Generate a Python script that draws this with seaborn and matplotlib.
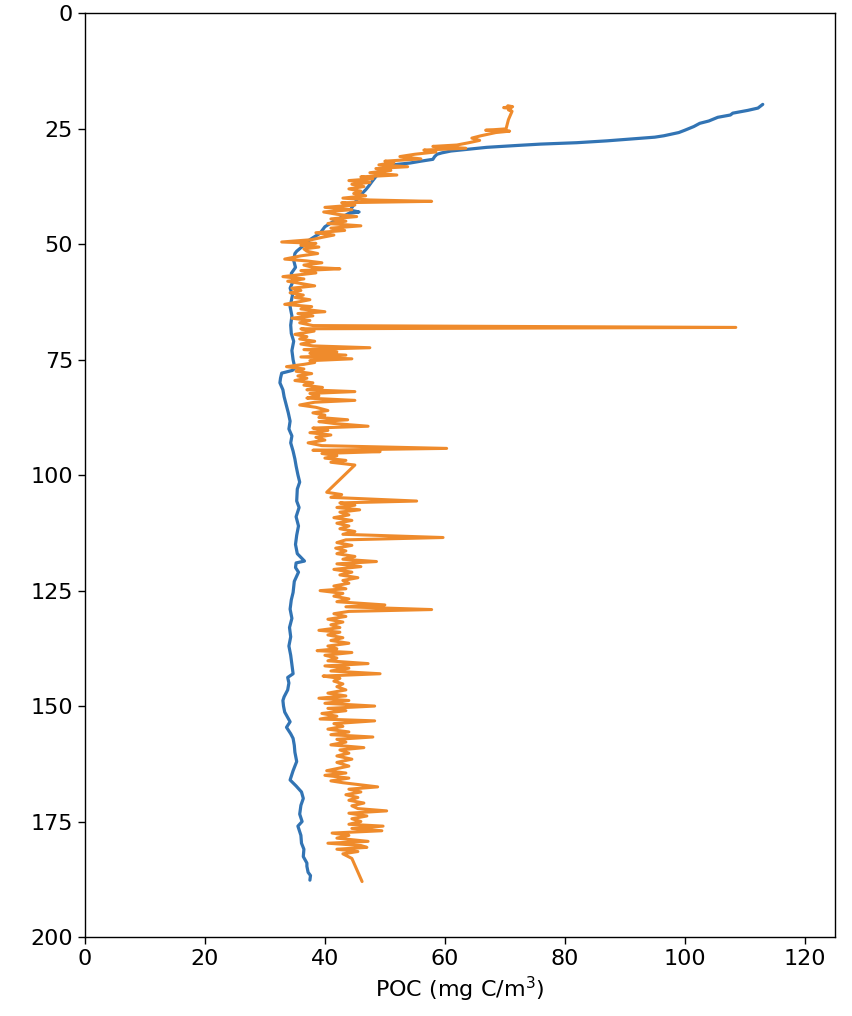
import numpy as np
import pandas as pd
import matplotlib
matplotlib.use("Agg")
import matplotlib.pyplot as plt
import seaborn as sns

# ---- data ----
blue_depth = [19.7, 20.5, 21.0, 21.6, 22.0, 22.5, 23.3, 23.8, 24.5, 25.3, 25.8, 26.5, 26.8, 27.2, 27.6,
              28.0, 28.3, 28.6, 29.0, 29.4, 29.8, 30.2, 30.5, 31.0, 31.6, 32.0, 32.4, 32.7, 33.0, 33.8,
              34.5, 35.5, 36.5, 37.4, 38.2, 39.0, 39.7, 40.4, 41.5, 42.6, 43.0, 43.3, 44.0, 45.0, 46.2,
              47.6, 49.0, 50.2, 51.5, 52.0, 53.5, 55.0, 56.3, 58.0, 59.5, 61.0, 63.5, 65.5, 67.5, 69.3,
              71.0, 73.0, 75.0, 76.8, 77.3, 77.9, 79.0, 80.0, 81.5, 83.0, 85.0, 86.5, 88.3, 90.0, 91.5,
              93.0, 94.8, 96.5, 98.0, 99.9, 101.5, 103.0, 105.6, 107.0, 109.0, 111.0, 113.0, 115.0, 117.0,
              118.6, 119.0, 120.0, 121.0, 123.0, 125.4, 127.0, 129.0, 131.0, 133.0, 135.0, 137.0, 139.0,
              141.0, 143.0, 143.8, 145.0, 146.5, 148.0, 148.8, 150.0, 151.3, 152.0, 153.4, 154.6, 156.0,
              157.0, 158.5, 160.0, 162.0, 164.0, 166.0, 167.3, 168.6, 170.0, 171.5, 173.4, 175.0, 176.0,
              178.0, 179.7, 181.0, 182.6, 184.0, 184.7, 186.0, 186.7, 187.7]
blue_poc = [113.0, 112.2, 110.5, 108.0, 107.6, 105.5, 104.0, 102.5, 101.5, 100.0, 99.0, 96.5, 95.0, 91.0, 87.0,
            82.0, 76.0, 72.0, 67.0, 64.0, 61.0, 59.5, 58.7, 58.3, 58.0, 56.0, 54.2, 52.0, 50.3, 49.6,
            49.0, 48.4, 47.8, 47.3, 46.8, 46.2, 45.8, 45.3, 44.8, 44.2, 45.7, 44.0, 43.0, 41.5, 40.0,
            39.2, 37.5, 36.5, 35.3, 35.0, 34.8, 35.1, 34.4, 34.7, 34.2, 34.6, 34.2, 34.5, 34.3, 34.4,
            34.8, 34.5, 34.7, 35.0, 34.6, 32.8, 32.6, 32.5, 33.0, 33.2, 33.6, 33.9, 34.2, 34.0, 34.5,
            34.3, 34.7, 35.0, 35.2, 35.5, 35.8, 35.4, 35.3, 35.7, 35.2, 35.6, 35.3, 35.1, 35.4,
            36.6, 35.2, 35.1, 35.6, 34.9, 34.7, 34.4, 34.2, 34.5, 34.1, 34.3, 34.0, 34.3,
            34.5, 34.7, 33.8, 34.0, 33.8, 33.2, 33.0, 33.1, 33.3, 33.6, 34.2, 33.6, 34.3,
            34.7, 34.9, 35.0, 35.3, 34.7, 34.2, 35.2, 36.1, 36.4, 36.0, 35.8, 36.2, 35.5,
            36.0, 36.1, 36.5, 36.4, 37.0, 37.0, 37.2, 37.6, 37.5]

orange_depth = [20.0, 20.2, 20.4, 20.6, 20.9, 21.2, 23.0, 25.0, 25.3, 25.5, 25.8, 26.5, 27.0, 27.5, 28.0,
                28.5, 28.8, 29.2, 29.6, 30.0, 30.5, 31.0, 31.5, 32.0, 32.3, 32.8, 33.2, 33.6, 34.0, 34.5,
                35.0, 35.4, 35.8, 36.2, 36.6, 37.0, 37.5, 38.0, 38.5, 39.0, 39.5, 40.0, 40.4, 40.7, 41.0,
                41.5, 42.0, 42.5, 43.0, 43.5, 44.0, 44.5, 45.0, 45.5, 46.0, 46.5, 47.0, 47.5, 48.0, 48.5,
                49.0, 49.5, 49.8, 50.2, 50.6, 51.0, 51.5, 52.0, 52.5, 53.2, 53.6, 54.0, 54.5, 55.0, 55.3,
                55.7, 56.2, 57.0, 57.5, 58.0, 58.5, 59.0, 59.5, 60.0, 60.5, 61.0, 61.5, 62.0, 62.5, 63.0,
                63.5, 64.0, 64.6, 65.0, 65.5, 66.0, 66.5, 67.0, 67.6, 68.0, 68.3, 68.8, 69.5, 70.0, 70.5,
                71.0, 71.6, 72.0, 72.4, 72.8, 73.3, 73.6, 74.0, 74.4, 74.8, 75.2, 75.6, 76.0, 76.5, 77.0,
                77.5, 78.0, 78.5, 79.0, 79.5, 80.0, 80.5, 81.0, 81.5, 81.9, 82.3, 82.8, 83.3, 83.8, 84.2,
                84.8, 85.3, 86.0, 86.5, 87.0, 87.5, 88.0, 88.4, 88.8, 89.4, 89.8, 90.3, 90.8, 91.3, 91.8,
                92.4, 93.0, 93.6, 94.2, 94.6, 94.9, 95.3, 95.8, 96.3, 96.8, 97.2, 97.8, 103.7, 104.2, 104.8,
                105.6, 106.0, 106.5, 107.0, 107.5, 108.0, 108.6, 109.2, 109.8, 110.4, 111.0, 111.6, 112.2,
                112.8, 113.5, 114.0, 114.6, 115.2, 115.8, 116.4, 117.0, 117.6, 118.2, 118.7, 119.2, 119.8,
                120.4, 121.0, 121.6, 122.2, 122.8, 123.4, 124.0, 124.6, 125.0, 125.6, 126.2, 126.8, 127.4,
                128.1, 128.5, 129.1, 129.5, 130.0, 130.6, 131.2, 131.8, 132.4, 133.0, 133.6, 134.0, 134.6,
                135.2, 135.8, 136.4, 137.0, 137.6, 138.0, 138.4, 139.0, 139.6, 140.2, 140.8, 141.3, 141.8,
                142.4, 143.0, 143.5, 144.0, 144.6, 145.2, 145.8, 146.5, 147.2, 147.8, 148.3, 148.8, 149.4,
                150.0, 150.5, 151.0, 151.6, 152.2, 152.8, 153.2, 153.8, 154.4, 155.0, 155.6, 156.2, 156.7,
                157.2, 157.8, 158.4, 159.0, 159.5, 160.2, 160.8, 161.5, 162.2, 163.0, 164.0, 164.5, 165.0,
                165.6, 166.2, 166.6, 167.5, 168.0, 168.6, 169.2, 169.8, 170.4, 171.0, 171.6, 172.2, 172.7,
                173.2, 173.8, 174.4, 175.0, 175.6, 176.0, 176.5, 177.0, 177.5, 178.0, 178.6, 179.0, 179.3,
                179.7, 180.2, 180.6, 181.0, 181.5, 182.0, 183.0, 188.0]
orange_poc = [70.5, 71.3, 69.8, 71.0, 70.6, 71.2, 70.6, 70.2, 66.8, 70.8, 68.5, 66.0, 64.5, 65.8, 64.0,
              62.0, 58.0, 63.5, 56.5, 58.5, 55.0, 52.5, 56.0, 50.0, 51.5, 49.0, 53.8, 48.5, 51.0, 47.5,
              52.0, 46.0, 48.0, 44.0, 47.5, 44.5, 46.5, 44.0, 46.0, 44.8, 46.8, 43.0, 47.5, 57.8, 42.8,
              45.0, 40.0, 44.5, 39.8, 42.0, 45.3, 41.0, 43.5, 40.5, 46.0, 41.0, 43.3, 38.5, 41.5, 39.5,
              37.8, 32.8, 38.5, 36.0, 39.0, 36.5, 37.0, 38.8, 36.0, 33.3, 37.0, 39.5, 36.5, 38.0, 42.5,
              36.0, 38.5, 33.0, 36.5, 33.8, 36.0, 38.3, 34.5, 36.0, 34.2, 36.4, 35.0, 37.5, 35.5, 33.3,
              37.8, 36.0, 40.0, 35.5, 38.0, 34.5, 37.5, 35.8, 38.0, 108.5, 36.0, 38.2, 35.0, 37.0, 35.8,
              38.3, 36.0, 38.0, 47.5, 36.5, 42.0, 37.5, 43.5, 36.0, 44.5, 37.5, 38.3, 36.5, 33.6, 36.5,
              35.2, 37.8, 35.5, 37.0, 35.0, 38.0, 36.5, 39.6, 37.0, 45.0, 37.5, 39.0, 37.0, 45.0, 38.3,
              35.8, 38.5, 40.5, 38.0, 40.0, 39.0, 43.8, 39.0, 41.5, 47.2, 38.0, 40.5, 37.5, 41.0, 38.5,
              40.0, 37.2, 39.5, 60.3, 38.0, 49.2, 39.5, 42.0, 40.0, 43.5, 41.0, 45.0, 40.3, 42.8, 41.0,
              55.3, 42.5, 45.0, 42.0, 45.8, 42.5, 44.0, 41.5, 44.5, 42.0, 44.0, 42.5, 45.0,
              43.0, 59.7, 43.5, 42.0, 44.5, 41.8, 43.5, 42.0, 45.0, 43.0, 48.6, 42.0, 46.0,
              41.5, 44.5, 42.5, 45.5, 43.0, 44.0, 41.5, 43.5, 39.2, 43.0, 41.5, 44.0, 42.0,
              50.0, 43.5, 57.8, 44.0, 41.5, 43.5, 40.5, 43.0, 41.0, 42.5, 39.0, 42.5, 40.5,
              43.0, 41.0, 44.0, 40.5, 42.0, 38.7, 44.5, 40.0, 42.0, 40.5, 47.2, 40.0, 44.0,
              41.0, 49.2, 39.7, 42.5, 41.5, 43.0, 42.0, 43.5, 40.5, 43.5, 39.0, 44.0, 40.0,
              48.3, 40.5, 43.5, 39.5, 42.0, 39.2, 48.3, 41.5, 43.0, 40.5, 44.0, 41.0, 48.0,
              42.0, 43.5, 41.0, 46.5, 42.5, 44.0, 42.0, 44.5, 42.0, 44.0, 40.3, 43.5, 40.0,
              44.0, 41.0, 43.0, 48.8, 44.0, 46.0, 43.5, 45.5, 44.0, 46.5, 44.5, 45.5, 50.3,
              44.0, 47.0, 44.5, 46.0, 44.0, 49.7, 44.5, 49.5, 41.2, 44.0, 42.0, 45.0, 47.2,
              40.5, 46.0, 47.0, 42.0, 45.5, 43.0, 44.5, 46.2]

x_ticks = [0, 20, 40, 60, 80, 100, 120]
y_ticks = [0, 25, 50, 75, 100, 125, 150, 175, 200]

blue_df = pd.DataFrame({"poc": blue_poc, "depth": blue_depth})
orange_df = pd.DataFrame({"poc": orange_poc, "depth": orange_depth})

sns.set_style("ticks")
plt.rcParams["font.family"] = ["DejaVu Sans"]
plt.rcParams["text.color"] = "black"
plt.rcParams["axes.labelcolor"] = "black"
plt.rcParams["xtick.color"] = "black"
plt.rcParams["ytick.color"] = "black"
plt.rcParams["axes.edgecolor"] = "black"

fig = plt.figure(figsize=(8.53, 10.16), dpi=100)
ax = fig.add_axes([0.0996, 0.0778, 0.879, 0.909])

sns.lineplot(data=blue_df, x="poc", y="depth", sort=False, estimator=None, orient="y",
             color="#3274b4", lw=2.3, ax=ax)
sns.lineplot(data=orange_df, x="poc", y="depth", sort=False, estimator=None, orient="y",
             color="#ef8b2c", lw=2.2, ax=ax)

ax.set_xlim(0, 125)
ax.set_ylim(200, 0)
ax.set_xticks(x_ticks)
ax.set_yticks(y_ticks)
ax.tick_params(labelsize=16, width=1, length=5)
ax.set_xlabel("POC (mg C/m$^3$)", fontsize=16)
ax.set_ylabel("")
for s in ax.spines.values():
    s.set_linewidth(1.0)

fig.savefig("out.png", dpi=100)
